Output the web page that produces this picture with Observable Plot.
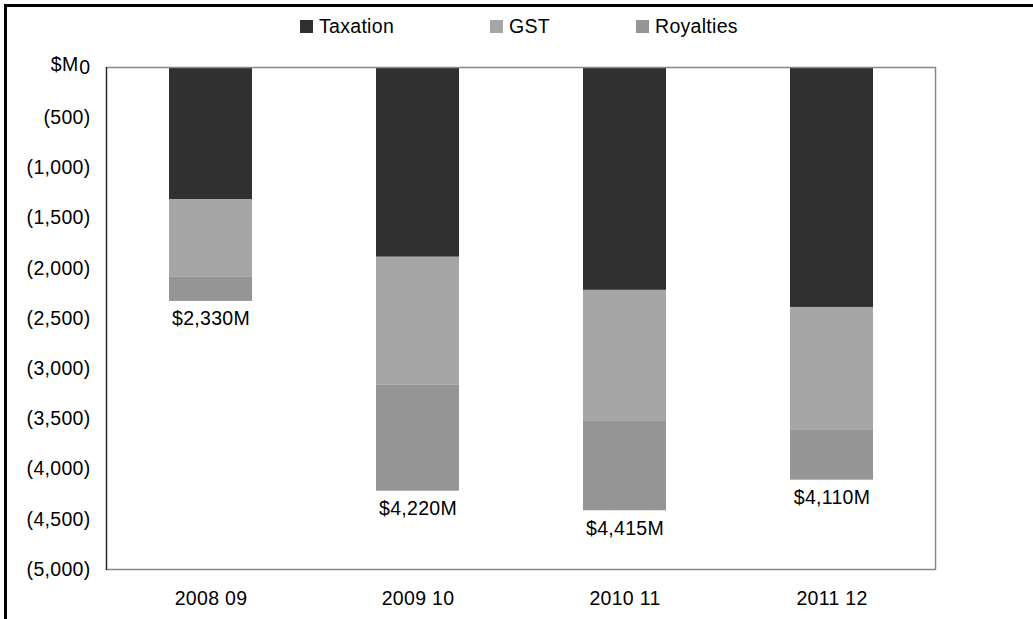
<!DOCTYPE html>
<html>
<head>
<meta charset="utf-8">
<script src="https://cdn.jsdelivr.net/npm/d3@7"></script>
<script src="https://cdn.jsdelivr.net/npm/@observablehq/plot@0.6"></script>
<style>
  html, body { margin: 0; padding: 0; background: #fff; overflow: hidden; }
  body { width: 1033px; height: 619px; position: relative; font-family: "Liberation Sans", Arial, sans-serif; }
  #border { position: absolute; left: 4px; top: 4px; width: 1100px; height: 700px; border-left: 3px solid #000; border-top: 3px solid #000; pointer-events: none; }
  #chart { position: absolute; left: 0; top: 0; }
  #legend { position: absolute; top: 14px; left: 0; width: 1033px; height: 24px; font-size: 19.5px; color: #000; }
  .item { position: absolute; top: 0; display: flex; align-items: center; height: 24px; letter-spacing: 0.3px; }
  .sw { width: 13px; height: 13px; margin-right: 6px; }
  svg text { letter-spacing: 0.3px; }
</style>
</head>
<body>
<div id="chart"></div>
<div id="legend"></div>
<div id="border"></div>
<script>
const years = ["2008 09", "2009 10", "2010 11", "2011 12"];
const series = ["Taxation", "GST", "Royalties"];
const taxation = [-1315, -1890, -2220, -2390];
const gst = [-775, -1275, -1305, -1225];
const royalties = [-240, -1055, -890, -495];
const totals = [2330, 4220, 4415, 4110];
const totalLabels = ["$2,330M", "$4,220M", "$4,415M", "$4,110M"];
const colors = ["#303030", "#a6a6a6", "#959595"];
const yTicks = [0, -500, -1000, -1500, -2000, -2500, -3000, -3500, -4000, -4500, -5000];

const rows = [];
years.forEach((y, i) => {
  rows.push({year: y, series: "Taxation", value: taxation[i]});
  rows.push({year: y, series: "GST", value: gst[i]});
  rows.push({year: y, series: "Royalties", value: royalties[i]});
});
const totalRows = years.map((y, i) => ({year: y, total: -totals[i], label: totalLabels[i]}));

const fmt = d => d === 0 ? "0" : "(" + d3.format(",")(-d) + ")";

const chart = Plot.plot({
  width: 1033,
  height: 619,
  marginLeft: 106,
  marginRight: 98,
  marginTop: 67,
  marginBottom: 50,
  style: {fontFamily: "'Liberation Sans', Arial, sans-serif", fontSize: "19.5px", color: "#000", background: "transparent"},
  x: {domain: years, paddingInner: 0.6, paddingOuter: 0.3},
  y: {domain: [-5000, 0]},
  color: {domain: series, range: colors},
  marks: [
    Plot.barY(rows, Plot.stackY({x: "year", y: "value", fill: "series", order: null})),
    Plot.frame({stroke: "#888", strokeWidth: 1.5}),
    Plot.frame({anchor: "left", stroke: "#222", strokeWidth: 1.2}),
    Plot.axisY({ticks: yTicks, tickFormat: fmt, tickSize: 0, tickPadding: 16, label: null, fontSize: 19.5}),
    Plot.axisX({tickSize: 0, tickPadding: 22, label: null, fontSize: 19.5}),
    Plot.text(["$M"], {frameAnchor: "top-left", dx: -28, dy: -10, textAnchor: "end", fontSize: 19.5}),
    Plot.text(totalRows, {x: "year", y: "total", text: "label", lineAnchor: "top", dy: 10, fontSize: 19.5})
  ]
});
document.getElementById("chart").appendChild(chart);

const legend = document.getElementById("legend");
const legendLeft = [300, 490, 636];
series.forEach((s, i) => {
  const it = document.createElement("div");
  it.className = "item";
  it.style.left = legendLeft[i] + "px";
  it.innerHTML = `<span class="sw" style="background:${colors[i]}"></span><span>${s}</span>`;
  legend.appendChild(it);
});
</script>
</body>
</html>
